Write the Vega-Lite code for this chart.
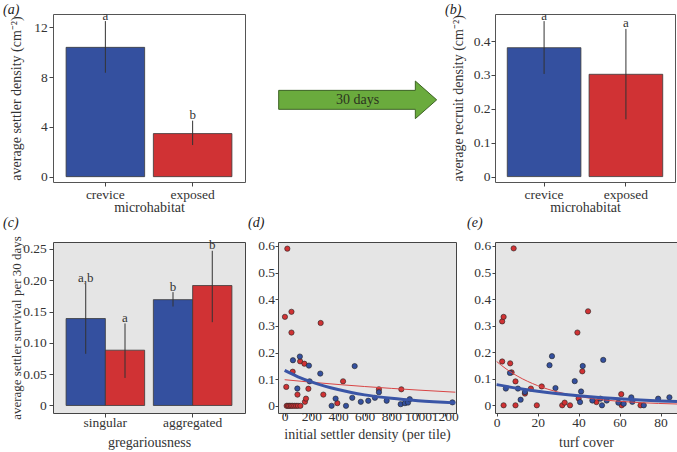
{
  "$schema": "https://vega.github.io/schema/vega-lite/v6.json",
  "padding": {"left": 2, "top": 2, "right": 0, "bottom": 0},
  "background": "white",
  "datasets": {
    "ab_a": [
      {"habitat": "crevice", "mean": 10.39, "lo": 8.35, "hi": 12.5, "letter": "a"},
      {"habitat": "exposed", "mean": 3.46, "lo": 2.54, "hi": 4.5, "letter": "b"}
    ],
    "ab_b": [
      {"habitat": "crevice", "mean": 0.3805, "lo": 0.303, "hi": 0.459, "letter": "a"},
      {"habitat": "exposed", "mean": 0.302, "lo": 0.169, "hi": 0.436, "letter": "a"}
    ],
    "surv": [
      {"greg": "singular", "habitat": "crevice", "mean": 0.1388, "lo": 0.0825, "hi": 0.195, "letter": "a,b"},
      {"greg": "singular", "habitat": "exposed", "mean": 0.0883, "lo": 0.044, "hi": 0.131, "letter": "a"},
      {"greg": "aggregated", "habitat": "crevice", "mean": 0.169, "lo": 0.158, "hi": 0.181, "letter": "b"},
      {"greg": "aggregated", "habitat": "exposed", "mean": 0.1915, "lo": 0.133, "hi": 0.247, "letter": "b"}
    ],
    "pts_d": [
      {"habitat": "exposed", "x": 20, "y": 0.59},
      {"habitat": "exposed", "x": 2, "y": 0.334},
      {"habitat": "exposed", "x": 51, "y": 0.353},
      {"habitat": "exposed", "x": 51, "y": 0.275},
      {"habitat": "exposed", "x": 270, "y": 0.311},
      {"habitat": "exposed", "x": 60, "y": 0.128},
      {"habitat": "exposed", "x": 116, "y": 0.167},
      {"habitat": "exposed", "x": 148, "y": 0.158},
      {"habitat": "exposed", "x": 12, "y": 0.071},
      {"habitat": "exposed", "x": 96, "y": 0.042},
      {"habitat": "exposed", "x": 178, "y": 0.064},
      {"habitat": "exposed", "x": 152, "y": 0.015},
      {"habitat": "exposed", "x": 160, "y": 0.027},
      {"habitat": "exposed", "x": 290, "y": 0.042},
      {"habitat": "exposed", "x": 438, "y": 0.092},
      {"habitat": "exposed", "x": 395, "y": 0.01},
      {"habitat": "exposed", "x": 707, "y": 0.062},
      {"habitat": "exposed", "x": 875, "y": 0.062},
      {"habitat": "exposed", "x": 15, "y": 0},
      {"habitat": "exposed", "x": 25, "y": 0},
      {"habitat": "exposed", "x": 35, "y": 0},
      {"habitat": "exposed", "x": 47, "y": 0},
      {"habitat": "exposed", "x": 58, "y": 0},
      {"habitat": "exposed", "x": 72, "y": 0},
      {"habitat": "exposed", "x": 86, "y": 0},
      {"habitat": "exposed", "x": 100, "y": 0},
      {"habitat": "exposed", "x": 118, "y": 0},
      {"habitat": "crevice", "x": 62, "y": 0.171},
      {"habitat": "crevice", "x": 114, "y": 0.185},
      {"habitat": "crevice", "x": 182, "y": 0.151},
      {"habitat": "crevice", "x": 267, "y": 0.121},
      {"habitat": "crevice", "x": 187, "y": 0.092},
      {"habitat": "crevice", "x": 95, "y": 0.065},
      {"habitat": "crevice", "x": 525, "y": 0.149},
      {"habitat": "crevice", "x": 382, "y": 0.027},
      {"habitat": "crevice", "x": 352, "y": 0},
      {"habitat": "crevice", "x": 460, "y": 0},
      {"habitat": "crevice", "x": 507, "y": 0.03},
      {"habitat": "crevice", "x": 571, "y": 0.015},
      {"habitat": "crevice", "x": 627, "y": 0.019},
      {"habitat": "crevice", "x": 677, "y": 0.03},
      {"habitat": "crevice", "x": 707, "y": 0.051},
      {"habitat": "crevice", "x": 765, "y": 0.019},
      {"habitat": "crevice", "x": 870, "y": 0.006},
      {"habitat": "crevice", "x": 902, "y": 0.01},
      {"habitat": "crevice", "x": 925, "y": 0.012},
      {"habitat": "crevice", "x": 938, "y": 0.025},
      {"habitat": "crevice", "x": 1258, "y": 0.013}
    ],
    "fit_d": [
      {"habitat": "crevice", "x": 0, "y": 0.133},
      {"habitat": "crevice", "x": 100, "y": 0.109},
      {"habitat": "crevice", "x": 200, "y": 0.09},
      {"habitat": "crevice", "x": 300, "y": 0.074},
      {"habitat": "crevice", "x": 400, "y": 0.061},
      {"habitat": "crevice", "x": 500, "y": 0.05},
      {"habitat": "crevice", "x": 600, "y": 0.041},
      {"habitat": "crevice", "x": 800, "y": 0.028},
      {"habitat": "crevice", "x": 1000, "y": 0.019},
      {"habitat": "crevice", "x": 1280, "y": 0.011},
      {"habitat": "exposed", "x": 0, "y": 0.098},
      {"habitat": "exposed", "x": 200, "y": 0.0886},
      {"habitat": "exposed", "x": 400, "y": 0.0801},
      {"habitat": "exposed", "x": 600, "y": 0.0724},
      {"habitat": "exposed", "x": 800, "y": 0.0654},
      {"habitat": "exposed", "x": 1000, "y": 0.0591},
      {"habitat": "exposed", "x": 1280, "y": 0.0511}
    ],
    "pts_e": [
      {"habitat": "exposed", "x": 8.3, "y": 0.591},
      {"habitat": "exposed", "x": 2.7, "y": 0.316},
      {"habitat": "exposed", "x": 3.4, "y": 0.333},
      {"habitat": "exposed", "x": 44.6, "y": 0.354},
      {"habitat": "exposed", "x": 39.4, "y": 0.274},
      {"habitat": "exposed", "x": 2.7, "y": 0.165},
      {"habitat": "exposed", "x": 6.6, "y": 0.158},
      {"habitat": "exposed", "x": 7.3, "y": 0.124},
      {"habitat": "exposed", "x": 9.2, "y": 0.09},
      {"habitat": "exposed", "x": 13.8, "y": 0.044},
      {"habitat": "exposed", "x": 16.7, "y": 0.063},
      {"habitat": "exposed", "x": 22, "y": 0.071},
      {"habitat": "exposed", "x": 41.8, "y": 0.128},
      {"habitat": "exposed", "x": 40, "y": 0.026},
      {"habitat": "exposed", "x": 48.7, "y": 0.012},
      {"habitat": "exposed", "x": 60.8, "y": 0.042},
      {"habitat": "exposed", "x": 3.4, "y": 0},
      {"habitat": "exposed", "x": 9.2, "y": 0},
      {"habitat": "exposed", "x": 19.6, "y": 0},
      {"habitat": "exposed", "x": 32, "y": 0},
      {"habitat": "exposed", "x": 33.2, "y": 0.01},
      {"habitat": "exposed", "x": 35.8, "y": 0},
      {"habitat": "exposed", "x": 61, "y": 0},
      {"habitat": "exposed", "x": 70.2, "y": 0},
      {"habitat": "crevice", "x": 6.5, "y": 0.122},
      {"habitat": "crevice", "x": 4.5, "y": 0.063},
      {"habitat": "crevice", "x": 10.4, "y": 0.063},
      {"habitat": "crevice", "x": 11.7, "y": 0.021},
      {"habitat": "crevice", "x": 13.8, "y": 0.05},
      {"habitat": "crevice", "x": 25.8, "y": 0.151},
      {"habitat": "crevice", "x": 27, "y": 0.185},
      {"habitat": "crevice", "x": 28.7, "y": 0.065},
      {"habitat": "crevice", "x": 38.1, "y": 0.091},
      {"habitat": "crevice", "x": 42, "y": 0.148},
      {"habitat": "crevice", "x": 41.2, "y": 0.052},
      {"habitat": "crevice", "x": 40.7, "y": 0.012},
      {"habitat": "crevice", "x": 52, "y": 0.171},
      {"habitat": "crevice", "x": 46.7, "y": 0.018},
      {"habitat": "crevice", "x": 50.6, "y": 0.025},
      {"habitat": "crevice", "x": 53.7, "y": 0.018},
      {"habitat": "crevice", "x": 51.4, "y": 0},
      {"habitat": "crevice", "x": 59.4, "y": 0.01},
      {"habitat": "crevice", "x": 62, "y": 0.006},
      {"habitat": "crevice", "x": 65.7, "y": 0.03},
      {"habitat": "crevice", "x": 66.2, "y": 0.013},
      {"habitat": "crevice", "x": 71.8, "y": 0},
      {"habitat": "crevice", "x": 78.8, "y": 0.025},
      {"habitat": "crevice", "x": 84.3, "y": 0.03}
    ],
    "fit_e": [
      {"habitat": "crevice", "x": 0, "y": 0.078},
      {"habitat": "crevice", "x": 10, "y": 0.0643},
      {"habitat": "crevice", "x": 20, "y": 0.053},
      {"habitat": "crevice", "x": 30, "y": 0.0437},
      {"habitat": "crevice", "x": 40, "y": 0.036},
      {"habitat": "crevice", "x": 50, "y": 0.0297},
      {"habitat": "crevice", "x": 60, "y": 0.0245},
      {"habitat": "crevice", "x": 70, "y": 0.0202},
      {"habitat": "crevice", "x": 80, "y": 0.0166},
      {"habitat": "crevice", "x": 88, "y": 0.0142},
      {"habitat": "exposed", "x": 0, "y": 0.165},
      {"habitat": "exposed", "x": 5, "y": 0.135},
      {"habitat": "exposed", "x": 10, "y": 0.1106},
      {"habitat": "exposed", "x": 15, "y": 0.0906},
      {"habitat": "exposed", "x": 20, "y": 0.0741},
      {"habitat": "exposed", "x": 30, "y": 0.0497},
      {"habitat": "exposed", "x": 40, "y": 0.0333},
      {"habitat": "exposed", "x": 50, "y": 0.0223},
      {"habitat": "exposed", "x": 60, "y": 0.015},
      {"habitat": "exposed", "x": 70, "y": 0.01},
      {"habitat": "exposed", "x": 88, "y": 0.0049}
    ]
  },
  "columns": 3,
  "spacing": {"row": 60, "column": 33},
  "bounds": "flush",
  "align": "each",
  "concat": [
    {
      "width": 192, "height": 168,
      "title": {"text": "(a)", "dx": -50, "baseline": "alphabetic", "offset": -18},
      "data": {"name": "ab_a"},
      "encoding": {
        "x": {"field": "habitat", "type": "nominal", "sort": ["crevice", "exposed"],
              "scale": {"paddingInner": 0.1, "paddingOuter": 0.15},
              "axis": {"title": "microhabitat", "labelBaseline": "alphabetic", "labelPadding": 12.6, "titleY": 29, "titleBaseline": "alphabetic"}}
      },
      "layer": [
        {"mark": {"type": "bar", "stroke": "#3a3a3a", "strokeWidth": 0.8},
         "encoding": {
           "y": {"field": "mean", "type": "quantitative", "title": "average settler density (cm⁻²)", "scale": {"domain": [-0.43, 13.07], "nice": false, "zero": false},
                 "axis": {"values": [0, 4, 8, 12], "tickCount": 20, "format": "d", "labelPadding": 1.7, "titleX": -37, "titleBaseline": "middle"}},
           "y2": {"datum": 0},
           "fill": {"field": "habitat", "type": "nominal", "scale": {"domain": ["crevice", "exposed"], "range": ["#34509f", "#d03234"]}, "legend": null}
         }},
        {"mark": {"type": "rule", "color": "#333", "strokeWidth": 1},
         "encoding": {"y": {"field": "lo", "type": "quantitative", "title": "average settler density (cm⁻²)",
                 "axis": {"values": [0, 4, 8, 12], "tickCount": 20, "format": "d", "labelPadding": 1.7, "titleX": -37, "titleBaseline": "middle"}}, "y2": {"field": "hi"}}},
        {"mark": {"type": "text", "baseline": "alphabetic", "dy": -1.5},
         "encoding": {"y": {"field": "hi", "type": "quantitative", "title": "average settler density (cm⁻²)",
                 "axis": {"values": [0, 4, 8, 12], "tickCount": 20, "format": "d", "labelPadding": 1.7, "titleX": -37, "titleBaseline": "middle"}}, "text": {"field": "letter"}}}
      ]
    },
    {
      "width": 184, "height": 168,
      "view": {"stroke": null},
      "data": {"values": [{"label": "30 days"}]},
      "encoding": {
        "x": {"datum": 0.433, "type": "quantitative", "scale": {"domain": [0, 1]}, "axis": null},
        "y": {"datum": 0.489, "type": "quantitative", "scale": {"domain": [0, 1]}, "axis": null}
      },
      "layer": [
        {"mark": {"type": "point", "shape": "M -1 -0.12 L 0.73 -0.12 L 0.73 -0.238 L 1 0 L 0.73 0.238 L 0.73 0.12 L -1 0.12 Z", "size": 24964, "filled": true, "fill": "#6aab3d", "stroke": "#3d6324", "strokeWidth": 1, "opacity": 1}},
        {"mark": {"type": "text", "fontSize": 14, "color": "#2a3320", "baseline": "middle"}, "encoding": {"text": {"field": "label"}}}
      ]
    },
    {
      "width": 180, "height": 168,
      "title": {"text": "(b)", "dx": -50, "baseline": "alphabetic", "offset": -18},
      "data": {"name": "ab_b"},
      "encoding": {
        "x": {"field": "habitat", "type": "nominal", "sort": ["crevice", "exposed"],
              "scale": {"paddingInner": 0.1, "paddingOuter": 0.15},
              "axis": {"title": "microhabitat", "labelBaseline": "alphabetic", "labelPadding": 12.6, "titleY": 29, "titleBaseline": "alphabetic"}}
      },
      "layer": [
        {"mark": {"type": "bar", "stroke": "#3a3a3a", "strokeWidth": 0.8},
         "encoding": {
           "y": {"field": "mean", "type": "quantitative", "title": "average recruit density (cm⁻²)", "scale": {"domain": [-0.016, 0.48], "nice": false, "zero": false},
                 "axis": {"values": [0, 0.1, 0.2, 0.3, 0.4], "tickCount": 20, "format": ".1~f", "labelPadding": 1, "titleX": -37, "titleBaseline": "middle"}},
           "y2": {"datum": 0},
           "fill": {"field": "habitat", "type": "nominal", "scale": {"domain": ["crevice", "exposed"], "range": ["#34509f", "#d03234"]}, "legend": null}
         }},
        {"mark": {"type": "rule", "color": "#333", "strokeWidth": 1},
         "encoding": {"y": {"field": "lo", "type": "quantitative", "title": "average recruit density (cm⁻²)",
                 "axis": {"values": [0, 0.1, 0.2, 0.3, 0.4], "tickCount": 20, "format": ".1~f", "labelPadding": 1, "titleX": -37, "titleBaseline": "middle"}}, "y2": {"field": "hi"}}},
        {"mark": {"type": "text", "baseline": "alphabetic", "dy": -1.5},
         "encoding": {"y": {"field": "hi", "type": "quantitative", "title": "average recruit density (cm⁻²)",
                 "axis": {"values": [0, 0.1, 0.2, 0.3, 0.4], "tickCount": 20, "format": ".1~f", "labelPadding": 1, "titleX": -37, "titleBaseline": "middle"}}, "text": {"field": "letter"}}}
      ]
    },
    {
      "width": 192, "height": 171,
      "view": {"fill": "#e5e5e5", "stroke": "#444"},
      "title": {"text": "(c)", "dx": -50, "baseline": "alphabetic", "offset": -5},
      "data": {"name": "surv"},
      "encoding": {
        "x": {"field": "greg", "type": "nominal", "sort": ["singular", "aggregated"],
              "scale": {"paddingInner": 0.1, "paddingOuter": 0.15},
              "axis": {"title": "gregariousness", "labelBaseline": "alphabetic", "labelPadding": 9.7, "titleY": 33, "titleBaseline": "alphabetic"}},
        "xOffset": {"field": "habitat", "type": "nominal", "sort": ["crevice", "exposed"], "scale": {"paddingInner": 0, "paddingOuter": 0}}
      },
      "layer": [
        {"mark": {"type": "bar", "stroke": "#3a3a3a", "strokeWidth": 0.8},
         "encoding": {
           "y": {"field": "mean", "type": "quantitative", "title": "average settler survival per 30 days", "scale": {"domain": [-0.012, 0.261], "nice": false, "zero": false},
                 "axis": {"values": [0, 0.05, 0.1, 0.15, 0.2, 0.25], "tickCount": 20, "format": ".2f", "labelExpr": "datum.value < 0.001 ? '0' : datum.label", "labelPadding": 2.7, "titleX": -37, "titleBaseline": "middle", "titleFontSize": 13}},
           "y2": {"datum": 0},
           "fill": {"field": "habitat", "type": "nominal", "scale": {"domain": ["crevice", "exposed"], "range": ["#34509f", "#d03234"]}, "legend": null}
         }},
        {"mark": {"type": "rule", "color": "#333", "strokeWidth": 1},
         "encoding": {"y": {"field": "lo", "type": "quantitative", "title": "average settler survival per 30 days",
                 "axis": {"values": [0, 0.05, 0.1, 0.15, 0.2, 0.25], "tickCount": 20, "format": ".2f", "labelExpr": "datum.value < 0.001 ? '0' : datum.label", "labelPadding": 2.7, "titleX": -37, "titleBaseline": "middle", "titleFontSize": 13}}, "y2": {"field": "hi"}}},
        {"mark": {"type": "text", "baseline": "alphabetic", "dy": -1.5},
         "encoding": {"y": {"field": "hi", "type": "quantitative", "title": "average settler survival per 30 days",
                 "axis": {"values": [0, 0.05, 0.1, 0.15, 0.2, 0.25], "tickCount": 20, "format": ".2f", "labelExpr": "datum.value < 0.001 ? '0' : datum.label", "labelPadding": 2.7, "titleX": -37, "titleBaseline": "middle", "titleFontSize": 13}}, "text": {"field": "letter"}}}
      ]
    },
    {
      "width": 178, "height": 171,
      "view": {"fill": "#e5e5e5", "stroke": "#444"},
      "title": {"text": "(d)", "dx": -30, "baseline": "alphabetic", "offset": -2},
      "encoding": {
        "x": {"field": "x", "type": "quantitative", "title": "initial settler density (per tile)", "scale": {"domain": [-50, 1285], "nice": false, "zero": false},
              "axis": {"values": [0, 200, 400, 600, 800, 1000, 1200], "tickCount": 20, "format": "d", "tickSize": 3, "labelBaseline": "alphabetic", "labelPadding": 4.7, "titleY": 25.5, "titleBaseline": "alphabetic"}},
        "y": {"field": "y", "type": "quantitative", "title": null, "scale": {"domain": [-0.027, 0.615], "nice": false, "zero": false},
              "axis": {"values": [0, 0.1, 0.2, 0.3, 0.4, 0.5, 0.6], "tickCount": 20, "format": ".1~f", "tickSize": 3, "labelPadding": 0.5}}
      },
      "layer": [
        {"data": {"name": "pts_d"},
         "mark": {"type": "point", "shape": "circle", "filled": true, "size": 28, "stroke": "#222", "strokeWidth": 0.6, "opacity": 1},
         "encoding": {
           "fill": {"field": "habitat", "type": "nominal", "scale": {"domain": ["crevice", "exposed"], "range": ["#34509f", "#d03234"]}, "legend": null}
         }},
        {"data": {"name": "fit_d"},
         "transform": [{"filter": "datum.habitat == 'exposed'"}],
         "mark": {"type": "line", "color": "#d94545", "strokeWidth": 1, "interpolate": "monotone"}},
        {"data": {"name": "fit_d"},
         "transform": [{"filter": "datum.habitat == 'crevice'"}],
         "mark": {"type": "line", "color": "#3a55a6", "strokeWidth": 3, "interpolate": "monotone"}}
      ]
    },
    {
      "width": 182, "height": 171,
      "view": {"fill": "#e5e5e5", "stroke": "#444"},
      "title": {"text": "(e)", "dx": -28, "baseline": "alphabetic", "offset": -2},
      "encoding": {
        "x": {"field": "x", "type": "quantitative", "title": "turf cover", "scale": {"domain": [-0.8, 88], "nice": false, "zero": false},
              "axis": {"values": [0, 20, 40, 60, 80], "tickCount": 20, "tickSize": 3, "labelBaseline": "alphabetic", "labelPadding": 10.3, "titleY": 33, "titleBaseline": "alphabetic"}},
        "y": {"field": "y", "type": "quantitative", "title": null, "scale": {"domain": [-0.029, 0.615], "nice": false, "zero": false},
              "axis": {"values": [0, 0.1, 0.2, 0.3, 0.4, 0.5, 0.6], "tickCount": 20, "format": ".1~f", "tickSize": 3, "labelPadding": 1.3}}
      },
      "layer": [
        {"data": {"name": "pts_e"},
         "mark": {"type": "point", "shape": "circle", "filled": true, "size": 28, "stroke": "#222", "strokeWidth": 0.6, "opacity": 1},
         "encoding": {
           "fill": {"field": "habitat", "type": "nominal", "scale": {"domain": ["crevice", "exposed"], "range": ["#34509f", "#d03234"]}, "legend": null}
         }},
        {"data": {"name": "fit_e"},
         "transform": [{"filter": "datum.habitat == 'exposed'"}],
         "mark": {"type": "line", "color": "#d94545", "strokeWidth": 1, "interpolate": "monotone"}},
        {"data": {"name": "fit_e"},
         "transform": [{"filter": "datum.habitat == 'crevice'"}],
         "mark": {"type": "line", "color": "#3a55a6", "strokeWidth": 3, "interpolate": "monotone"}}
      ]
    }
  ],
  "config": {
    "font": "Liberation Serif, Times New Roman, serif",
    "view": {"stroke": "#555", "strokeWidth": 1},
    "axis": {"domain": false, "grid": false, "labelOverlap": false, "labelFont": "Liberation Serif, Times New Roman, serif", "labelFontSize": 13.5, "labelColor": "#333", "titleFont": "Liberation Serif, Times New Roman, serif", "titleFontSize": 14, "titleFontWeight": "normal", "titleColor": "#333", "tickColor": "#444", "tickSize": 4, "labelAngle": 0},
    "title": {"font": "Liberation Serif, Times New Roman, serif", "fontSize": 14, "fontWeight": "normal", "fontStyle": "italic", "anchor": "start", "frame": "group", "color": "#222"},
    "text": {"font": "Liberation Serif, Times New Roman, serif", "fontSize": 13, "color": "#333"}
  }
}
